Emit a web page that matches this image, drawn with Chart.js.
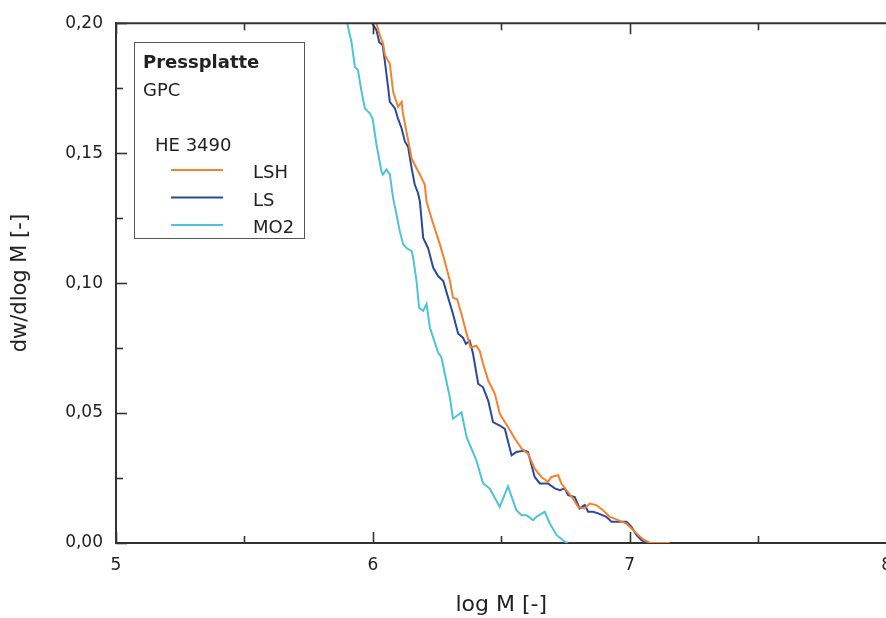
<!DOCTYPE html>
<html>
<head>
<meta charset="utf-8">
<script src="https://cdn.jsdelivr.net/npm/chart.js@4/dist/chart.umd.min.js"></script>
<style>
  html,body{margin:0;padding:0;background:#fff;overflow:hidden;}
  #wrap{width:886px;height:618px;overflow:hidden;}
</style>
</head>
<body>
<div id="wrap"><canvas id="gpc" width="904" height="618"></canvas></div>
<script>
/* ---------- data ---------- */
const lshX = [6.014,6.027,6.040,6.047,6.066,6.079,6.098,6.112,6.116,6.131,6.151,6.170,6.183,6.202,6.209,6.228,6.248,6.261,6.280,6.300,6.312,6.328,6.345,6.365,6.380,6.403,6.416,6.429,6.449,6.475,6.494,6.526,6.553,6.579,6.604,6.630,6.656,6.682,6.695,6.721,6.734,6.754,6.779,6.799,6.825,6.844,6.870,6.896,6.922,6.955,6.987,7.007,7.026,7.052,7.078,7.097,7.156];
const lshY = [0.2000,0.1954,0.1921,0.1877,0.1844,0.1736,0.1678,0.1697,0.1659,0.1582,0.1480,0.1442,0.1418,0.1379,0.1314,0.1250,0.1188,0.1149,0.1084,0.1008,0.0944,0.0938,0.0881,0.0805,0.0752,0.0759,0.0739,0.0690,0.0625,0.0574,0.0497,0.0446,0.0401,0.0363,0.0344,0.0286,0.0254,0.0235,0.0254,0.0261,0.0229,0.0203,0.0171,0.0139,0.0133,0.0152,0.0146,0.0126,0.0101,0.0088,0.0075,0.0056,0.0037,0.0014,0.0001,0.0000,0.0000];

const lsX = [5.997,6.014,6.025,6.038,6.047,6.060,6.066,6.086,6.098,6.112,6.125,6.137,6.151,6.163,6.176,6.183,6.196,6.215,6.235,6.254,6.274,6.293,6.312,6.332,6.351,6.362,6.377,6.390,6.410,6.429,6.449,6.455,6.468,6.494,6.514,6.540,6.559,6.591,6.604,6.630,6.650,6.682,6.708,6.728,6.747,6.760,6.786,6.805,6.825,6.838,6.857,6.877,6.909,6.929,6.955,6.987,7.007,7.026,7.046,7.065];
const lsY = [0.2000,0.1973,0.1927,0.1916,0.1851,0.1748,0.1697,0.1672,0.1633,0.1595,0.1544,0.1525,0.1442,0.1379,0.1346,0.1314,0.1174,0.1135,0.1059,0.1027,0.1008,0.0944,0.0881,0.0805,0.0790,0.0766,0.0778,0.0728,0.0613,0.0599,0.0548,0.0522,0.0465,0.0452,0.0439,0.0337,0.0350,0.0356,0.0350,0.0254,0.0229,0.0229,0.0210,0.0203,0.0210,0.0184,0.0177,0.0133,0.0146,0.0120,0.0120,0.0114,0.0101,0.0082,0.0082,0.0082,0.0062,0.0031,0.0011,0.0000];

const mo2X = [5.900,5.917,5.930,5.942,5.956,5.969,5.988,5.999,6.014,6.034,6.039,6.053,6.066,6.079,6.092,6.105,6.118,6.131,6.151,6.157,6.170,6.180,6.196,6.209,6.222,6.235,6.254,6.267,6.280,6.300,6.312,6.345,6.365,6.403,6.429,6.455,6.494,6.526,6.559,6.579,6.598,6.624,6.637,6.669,6.689,6.715,6.747,6.760];
const mo2Y = [0.2000,0.1927,0.1831,0.1820,0.1736,0.1672,0.1653,0.1633,0.1533,0.1429,0.1418,0.1437,0.1418,0.1326,0.1264,0.1199,0.1149,0.1135,0.1123,0.1097,0.1008,0.0905,0.0893,0.0920,0.0829,0.0790,0.0733,0.0714,0.0651,0.0559,0.0478,0.0503,0.0407,0.0318,0.0229,0.0210,0.0139,0.0218,0.0126,0.0107,0.0107,0.0088,0.0101,0.0120,0.0075,0.0031,0.0005,0.0000];

const seriesNames = ['LSH','LS','MO2'];
const seriesColors = ['#f5822a','#2b4a9e','#4cc4d8'];
const legendTitle = 'Pressplatte', legendSub = 'GPC', legendGroup = 'HE 3490';

/* ---------- helpers ---------- */
const pts = (xs,ys) => xs.map((x,i)=>({x, y:ys[i]}));
const FONT = "'DejaVu Sans', sans-serif";
const isMult = (v,s) => Math.abs(v/s - Math.round(v/s)) < 1e-6;

/* ---------- frame: top line + inward ticks ---------- */
const frame = {
  id:'frame',
  afterDraw(chart){
    const {ctx, chartArea:a, scales:{x,y}} = chart;
    ctx.save();
    ctx.strokeStyle='#333';
    ctx.lineWidth=2;
    ctx.beginPath(); ctx.moveTo(a.left,a.top); ctx.lineTo(a.right+4,a.top); ctx.stroke();
    ctx.lineWidth=1.6;
    x.ticks.forEach(t=>{
      const px=Math.round(x.getPixelForValue(t.value))+0.5;
      const len=isMult(t.value,1)?11:7;
      ctx.beginPath();
      ctx.moveTo(px,a.bottom); ctx.lineTo(px,a.bottom-len);
      ctx.moveTo(px,a.top); ctx.lineTo(px,a.top+len);
      ctx.stroke();
    });
    y.ticks.forEach(t=>{
      const py=Math.round(y.getPixelForValue(t.value))+0.5;
      const len=isMult(t.value,0.05)?11:7;
      ctx.beginPath(); ctx.moveTo(a.left,py); ctx.lineTo(a.left+len,py); ctx.stroke();
    });
    ctx.restore();
  }
};

/* ---------- legend box ---------- */
const legendBox = {
  id:'legendBox',
  afterDraw(chart){
    const ctx=chart.ctx;
    ctx.save();
    ctx.strokeStyle='#555'; ctx.lineWidth=1;
    ctx.strokeRect(134.5,42.5,170,196);
    ctx.fillStyle='#222'; ctx.textBaseline='alphabetic'; ctx.textAlign='left';
    ctx.font="bold 18px "+FONT; ctx.fillText(legendTitle,143,68);
    ctx.font="18px "+FONT; ctx.fillText(legendSub,143,96);
    ctx.fillText(legendGroup,155,151);
    seriesNames.forEach((n,i)=>{
      const yy=170+i*27.5;
      ctx.strokeStyle=seriesColors[i]; ctx.lineWidth=2;
      ctx.beginPath(); ctx.moveTo(171,yy); ctx.lineTo(223,yy); ctx.stroke();
      ctx.fillStyle='#222'; ctx.fillText(n,253,yy+8);
    });
    ctx.restore();
  }
};

/* ---------- chart ---------- */
new Chart(document.getElementById('gpc'),{
  type:'line',
  data:{datasets:[
    {label:seriesNames[0],data:pts(lshX,lshY),borderColor:seriesColors[0]},
    {label:seriesNames[1],data:pts(lsX,lsY),borderColor:seriesColors[1]},
    {label:seriesNames[2],data:pts(mo2X,mo2Y),borderColor:seriesColors[2]}
  ]},
  options:{
    responsive:false,
    animation:false,
    devicePixelRatio:1,
    datasets:{line:{borderWidth:2,pointRadius:0,tension:0,fill:false}},
    layout:{padding:{top:21,right:3,left:0,bottom:0},autoPadding:false},
    plugins:{legend:{display:false},tooltip:{enabled:false}},
    scales:{
      x:{
        type:'linear',min:5,max:8,
        afterFit:s=>{s.height=75;},
        grid:{display:false,drawTicks:false},
        border:{display:true,color:'#333',width:2},
        ticks:{stepSize:0.5,autoSkip:false,maxRotation:0,padding:12,color:'#222',
          font:{family:FONT,size:17},
          callback:v=>isMult(v,1)?String(Math.round(v)):''},
        title:{display:true,text:'log M [-]',color:'#222',font:{family:FONT,size:22},padding:{top:0,bottom:0}}
      },
      y:{
        min:0,max:0.2,
        afterFit:s=>{s.width=116;},
        grid:{display:false,drawTicks:false},
        border:{display:true,color:'#333',width:2},
        ticks:{stepSize:0.025,autoSkip:false,padding:13,color:'#222',
          font:{family:FONT,size:17},
          callback:v=>isMult(v,0.05)?v.toFixed(2).replace('.',','):''},
        title:{display:true,text:'dw/dlog M [-]',color:'#222',font:{family:FONT,size:21},padding:{top:8,bottom:0}}
      }
    }
  },
  plugins:[frame,legendBox]
});
</script>
</body>
</html>
